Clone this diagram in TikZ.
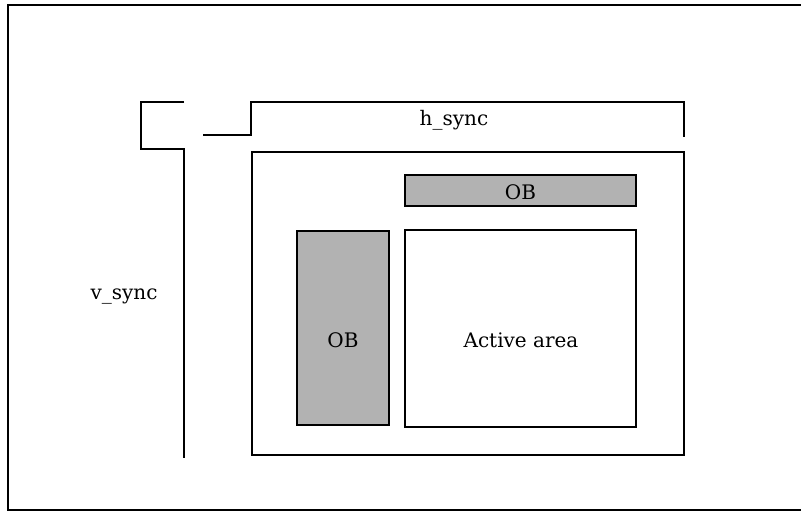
\documentclass[tikz,border=0pt]{standalone}
\usepackage{fontspec}
\setmainfont{DejaVu Serif}
\usetikzlibrary{positioning}
\definecolor{obgrey}{HTML}{B2B2B2}
\tikzset{
  frameline/.style={line width=1.8pt},
  syncline/.style={line width=1.6pt},
  box/.style={draw, line width=1.6pt},
  obbox/.style={box, fill=obgrey},
  lbl/.style={font=\fontsize{15}{17}\selectfont, inner sep=0pt}
}

\begin{document}
\begin{tikzpicture}[x=0.75pt,y=-0.75pt]
\useasboundingbox (0,0) rectangle (801,511);
% frame, open on the right
\draw[frameline] (801,5) -- (8,5) -- (8,510) -- (801,510);
% sync brackets
\draw[syncline] (184,102) -- (141,102) -- (141,149) -- (184,149) -- (184,458);
\draw[syncline] (203,135) -- (251,135) -- (251,102) -- (684,102) -- (684,137);
\node[lbl] (vsync) at (124,297) {v\_sync};
\node[lbl] (hsync) at (454,120) {h\_sync};
% pixel array
\draw[box] (252,152) rectangle (684,455);
\draw[obbox] (405,175) rectangle (636,206);
\draw[obbox] (297,231) rectangle (389,425);
\draw[box] (405,230) rectangle (636,427);
\node[lbl] (obtop) at (520.5,192) {OB};
\node[lbl] (obleft) at (343,340) {OB};
\node[lbl] (active) at (521,340) {Active area};
\end{tikzpicture}
\end{document}
